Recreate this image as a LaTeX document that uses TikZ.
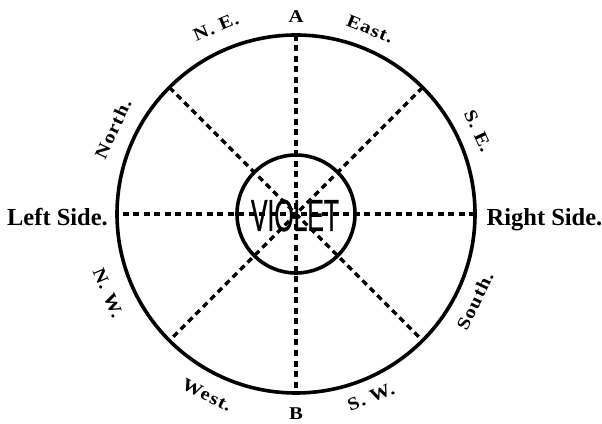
\documentclass[tikz,border=0pt]{standalone}
\usepackage{fontspec}
\setmainfont{Liberation Serif}
\newfontfamily\labfont[FakeStretch=1.15,LetterSpace=6]{Liberation Serif}
\newfontfamily\sidefont{Liberation Serif}
\newfontfamily\violetfont[FakeStretch=0.55,FakeBold=0.6]{Liberation Sans}
\begin{document}
\begin{tikzpicture}[x=1pt,y=1pt,
  spoke/.style={line width=3.3pt, dash pattern=on 6pt off 4.5pt},
  ring/.style={circle, draw, line width=3.6pt, inner sep=0pt, outer sep=0pt},
  lab/.style={font=\fontsize{18}{18}\selectfont\labfont\bfseries, inner sep=0pt},
  side/.style={font=\fontsize{24.5}{24.5}\selectfont\sidefont\bfseries, inner sep=0pt, anchor=base}]
\useasboundingbox (0,0) rectangle (602,423);
\coordinate (c) at (296,209);
\node[ring, minimum size=358pt] (outer) at (c) {};
\node[ring, minimum size=118pt] (inner) at (c) {};
\foreach \a/\b in {0/180,45/225,90/270,135/315}
  {\draw[spoke] (outer.\a) -- (outer.\b);}
\node[font=\fontsize{45}{45}\selectfont\violetfont, inner sep=0pt, anchor=base] (word) at (295,192) {VIOLET};
\node[lab] (A) at (296,406) {A};
\node[lab] (B) at (296,9.5) {B};
\node[lab, rotate=23] (ne) at (216,396) {N. E.};
\node[lab, rotate=-22] (east) at (370,394) {East.};
\node[lab, rotate=-65.5] (se) at (478,292) {S. E.};
\node[lab, rotate=65] (north) at (113,294) {North.};
\node[lab, rotate=-67] (nw) at (108,130) {N. W.};
\node[lab, rotate=64] (south) at (475,122) {South.};
\node[lab, rotate=-26] (west) at (207,28) {West.};
\node[lab, rotate=22] (sw) at (371,26) {S. W.};
\node[side] (left) at (57.5,197) {Left Side.};
\node[side] (right) at (544.5,197) {Right Side.};
\end{tikzpicture}
\end{document}
